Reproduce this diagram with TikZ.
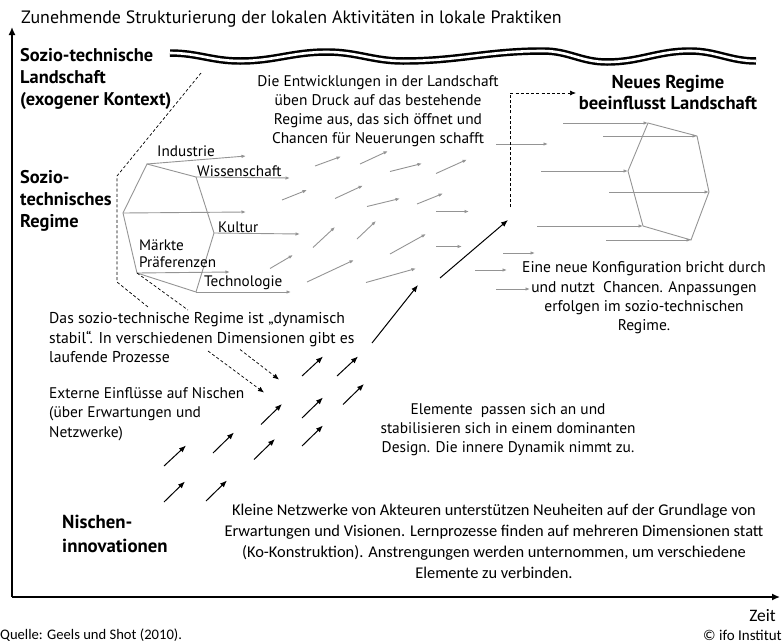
\documentclass[tikz,border=0pt]{standalone}
\usepackage{fontspec}
\setmainfont{PT Sans}
\newfontfamily\calib{Carlito}
\usetikzlibrary{arrows.meta}
\begin{document}
\begin{tikzpicture}[x=1pt,y=-1pt,
  body/.style={inner sep=0pt, font=\fontsize{15.4}{19.3}\selectfont},
  boldtxt/.style={inner sep=0pt, font=\fontsize{18.4}{22}\selectfont\bfseries},
  lbl/.style={inner sep=0pt, anchor=west, font=\fontsize{15.2}{17}\selectfont},
  garr/.style={draw=black!42, line width=0.9pt, -{Latex[length=4.5pt,width=3.5pt]}},
  gline/.style={draw=black!42, line width=0.9pt},
  barr/.style={draw=black, line width=1pt, -{Latex[length=7pt,width=5.5pt]}},
  dline/.style={draw=black, line width=0.7pt, dash pattern=on 3pt off 2.2pt},
  darr/.style={dline, -{Latex[length=6pt,width=5pt]}},
  axis/.style={draw=black, line width=1.4pt, -{Latex[length=8pt,width=7pt]}}
]
\useasboundingbox (0,0) rectangle (782,643);

% axes
\coordinate (o) at (12,597);
\coordinate (ytop) at (12,27);
\coordinate (xend) at (780,597);
\draw[axis] (o) -- (ytop);
\draw[axis] (o) -- (xend);

% title and footer
\node[inner sep=0pt, anchor=west, font=\fontsize{17.9}{20}\selectfont] (title) at (21,19) {Zunehmende Strukturierung der lokalen Aktivitäten in lokale Praktiken};
\node[inner sep=0pt, anchor=east, font=\calib\fontsize{17.5}{20}\selectfont] (zeit) at (776,616) {Zeit};
\node[inner sep=0pt, anchor=west, font=\calib\fontsize{14.6}{16}\selectfont] (quelle) at (0,635) {Quelle: Geels und Shot (2010).};
\node[inner sep=0pt, anchor=east, font=\calib\fontsize{15}{16}\selectfont] (ifo) at (782,635) {© ifo Institut};

% landscape wave (double line)
\def\wavepath{(170,53) .. controls (198,53) and (212,61) .. (240,61) .. controls (275,61) and (292,52) .. (327,52) .. controls (357,52) and (373,61) .. (403,61) .. controls (459,61) and (487,51) .. (543,51) .. controls (569,51) and (581,62) .. (607,62) .. controls (640,62) and (657,51) .. (690,51) .. controls (716,51) and (730,61) .. (756,61)}
\draw[line width=7.5pt, black] \wavepath;
\draw[line width=2.6pt, white] \wavepath;

% left labels
\node[boldtxt, anchor=west, align=left] (land) at (20,79) {Sozio-technische\\Landschaft\\(exogener Kontext)};
\node[boldtxt, anchor=west, align=left] (regime) at (20,201) {Sozio-\\technisches\\Regime};
\node[boldtxt, anchor=west, align=left, font=\fontsize{18.8}{24}\selectfont\bfseries] (nische) at (62,534) {Nischen-\\innovationen};

% landscape text
\node[body, align=center, font=\fontsize{15.4}{18.8}\selectfont] (druck) at (378,111) {Die Entwicklungen in der Landschaft\\üben Druck auf das bestehende\\Regime aus, das sich öffnet und\\Chancen für Neuerungen schafft};
\node[boldtxt, align=center, font=\fontsize{18.6}{21}\selectfont\bfseries] (neues) at (668,93) {Neues Regime\\beeinflusst Landschaft};

% regime hexagon
\coordinate (r1) at (147,164);
\coordinate (r2) at (196,177);
\coordinate (r3) at (214,233);
\coordinate (r4) at (196,292);
\coordinate (r5) at (137,273);
\coordinate (r6) at (123,213);
\draw[gline] (r1) -- (r2) -- (r3) -- (r4) -- (r5) -- (r6) -- cycle;
\coordinate (e1) at (246,156);
\coordinate (e2) at (290,178);
\coordinate (e3) at (300,234);
\coordinate (e4) at (291,292);
\coordinate (e5) at (230,272);
\coordinate (e6) at (246,212);
\draw[garr] (r1) -- (e1);
\draw[garr] (r2) -- (e2);
\draw[garr] (r3) -- (e3);
\draw[garr] (r4) -- (e4);
\draw[garr] (r5) -- (e5);
\draw[garr] (r6) -- (e6);
\node[lbl] (ind) at (157,151) {Industrie};
\node[lbl] (wiss) at (197,171) {Wissenschaft};
\node[lbl] (kult) at (218,227) {Kultur};
\node[lbl, align=left] (markt) at (139,254) {Märkte\\Präferenzen};
\node[lbl] (tech) at (204,283) {Technologie};

% dashed outline of regime
\coordinate (d1) at (201,73);
\coordinate (d2) at (117,176);
\coordinate (d3) at (117,282);
\coordinate (d4) at (148,307);
\coordinate (d5) at (188,310);
\draw[dline] (d1) -- (d2) -- (d3) -- (d4);
\draw[dline] (r5) -- (d5);

% grey arrow field
\foreach \a/\b in {
  {(315,166)}/{(341,156.5)}, {(360,164)}/{(388,151)}, {(390,171.5)}/{(422,163.5)}, {(436,173.5)}/{(467,159.5)},
  {(282,200)}/{(307,190)}, {(335,198.5)}/{(363,185.5)}, {(367,206.5)}/{(400,198.5)}, {(417,204)}/{(443,193.5)}, {(436,211.5)}/{(469,211.5)},
  {(313,247.5)}/{(335,227)}, {(357,239)}/{(376,221)}, {(390,254)}/{(426,234)}, {(436,246.5)}/{(462,246.5)},
  {(270,268.5)}/{(293,255)}, {(307,282)}/{(354,260)}, {(366,282.5)}/{(416,268.5)},
  {(496,144)}/{(548,144)}, {(503,253)}/{(535,253)}, {(475,270)}/{(507,270)}, {(496,289)}/{(530,289)}}
  \draw[garr] \a -- \b;

% new regime hexagon
\coordinate (n1) at (648,123);
\coordinate (n2) at (697,136);
\coordinate (n3) at (709,192);
\coordinate (n4) at (691,240);
\coordinate (n5) at (643,226);
\coordinate (n6) at (628,171);
\draw[gline] (n1) -- (n2) -- (n3) -- (n4) -- (n5) -- (n6) -- cycle;
\coordinate (s1) at (563,123);
\coordinate (s2) at (603,136);
\coordinate (s3) at (609,192);
\coordinate (s4) at (606,240);
\coordinate (s5) at (537,226);
\coordinate (s6) at (541,171);
\draw[garr] (s1) -- (n1);
\draw[garr] (s2) -- (n2);
\draw[garr] (s3) -- (n3);
\draw[garr] (s4) -- (n4);
\draw[garr] (s5) -- (n5);
\draw[garr] (s6) -- (n6);

% dashed breakthrough line to new regime
\coordinate (v1) at (510,207);
\coordinate (v2) at (510,93);
\coordinate (v3) at (576,93);
\draw[darr] (v1) -- (v2) -- (v3);

% black arrows (niches)
\foreach \a/\b in {
  {(164,502)}/{(185,481.5)}, {(206,501)}/{(227,480.5)},
  {(164,466)}/{(186,445.5)}, {(213,453)}/{(234,432.5)}, {(254,459.5)}/{(275,439)},
  {(261,424.5)}/{(282,404)}, {(302,446)}/{(323,425.5)}, {(302,418)}/{(323,397.5)},
  {(343,404.5)}/{(364,384)}, {(302,376)}/{(323,356.5)}, {(337,376)}/{(358,356.5)},
  {(372,343)}/{(418,285)}, {(440,278)}/{(508,220)}}
  \draw[barr] \a -- \b;

% dashed arrows from text
\draw[darr] (208,351) -- (264,392.5);
\draw[darr] (240,349.5) -- (279,379.5);

% body texts
\node[body, anchor=west, align=left, font=\fontsize{15.7}{19.5}\selectfont] (dyn) at (49,338) {Das sozio-technische Regime ist „dynamisch\\stabil“. In verschiedenen Dimensionen gibt es\\laufende Prozesse};
\node[body, anchor=west, align=left] (ext) at (49,414) {Externe Einflüsse auf Nischen\\(über Erwartungen und\\Netzwerke)};
\node[body, align=center, font=\fontsize{15.4}{19}\selectfont] (elem) at (508,430) {Elemente\ \ passen sich an und\\stabilisieren sich in einem dominanten\\Design. Die innere Dynamik nimmt zu.};
\node[body, align=center, font=\fontsize{15.5}{19.3}\selectfont] (konf) at (644,298) {Eine neue Konfiguration bricht durch\\und nutzt\ \ Chancen. Anpassungen\\erfolgen im sozio-technischen\\Regime.};
\node[inner sep=0pt, align=center, font=\calib\fontsize{16.4}{21}\selectfont] (klein) at (494,541) {Kleine Netzwerke von Akteuren unterstützen Neuheiten auf der Grundlage von\\Erwartungen und Visionen. Lernprozesse finden auf mehreren Dimensionen statt\\(Ko-Konstruktion). Anstrengungen werden unternommen, um verschiedene\\Elemente zu verbinden.};
\end{tikzpicture}
\end{document}
